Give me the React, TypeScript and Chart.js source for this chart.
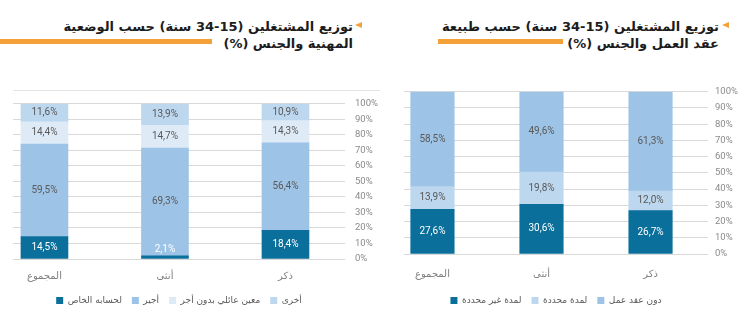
import React, { useEffect, useRef } from 'react';
import { Chart, registerables } from 'chart.js';

Chart.register(...registerables);

// ---------- data ----------
const categories = ['المجموع', 'أنثى', 'ذكر'];

// Left chart: employment status (bottom -> top)
const leftSeriesNames = ['لحسابه الخاص', 'أجير', 'معين عائلي بدون أجر', 'أخرى'];
const selfEmployed = [14.5, 2.1, 18.4];
const employee = [59.5, 69.3, 56.4];
const familyUnpaid = [14.4, 14.7, 14.3];
const otherStatus = [11.6, 13.9, 10.9];

// Right chart: contract type (bottom -> top)
const rightSeriesNames = ['لمدة غير محددة', 'لمدة محددة', 'دون عقد عمل'];
const permanent = [27.6, 30.6, 26.7];
const fixedTerm = [13.9, 19.8, 12.0];
const noContract = [58.5, 49.6, 61.3];

const yTicks = [0, 10, 20, 30, 40, 50, 60, 70, 80, 90, 100];

const leftTitle = ['توزيع المشتغلين (15-34 سنة) حسب الوضعية', 'المهنية والجنس (%)'];
const rightTitle = ['توزيع المشتغلين (15-34 سنة) حسب طبيعة', 'عقد العمل والجنس (%)'];

// ---------- styles ----------
const DARK = '#0b6f9c';
const MID = '#9dc3e6';
const LIGHT = '#bdd7ee';
const PALE = '#deebf7';
const ORANGE = '#f4a13a';
const ARABIC = '"DejaVu Sans", sans-serif';
const NUMFONT = 'Roboto, sans-serif';

const fmt = (v: number) => v.toFixed(1).replace('.', ',') + '%';

const segLabels = {
  id: 'segLabels',
  afterDatasetsDraw(chart: any, _args: any, opts: any) {
    const ctx = chart.ctx;
    ctx.save();
    ctx.font = '10px ' + NUMFONT;
    ctx.textAlign = 'center';
    ctx.textBaseline = 'middle';
    chart.data.datasets.forEach((ds: any, di: number) => {
      const meta = chart.getDatasetMeta(di);
      ctx.fillStyle = (opts.colors && opts.colors[di]) || '#595959';
      meta.data.forEach((el: any, i: number) => {
        const p = el.getProps(['x', 'y', 'base'], true);
        const h = Math.abs(p.base - p.y);
        let cy = (p.y + p.base) / 2;
        if (h < 14) cy = p.base - 9;
        ctx.fillText(fmt(ds.data[i].y), p.x, cy);
      });
    });
    ctx.restore();
  },
};

function makeConfig(
  names: string[],
  series: number[][],
  colors: string[],
  labelColors: string[],
  xMin: number,
  xMax: number,
  barThickness: number,
  padding: any,
  xPad: number,
  xAxisHeight: number,
  yPad: number,
  yAxisWidth: number
) {
  return {
    type: 'bar' as const,
    data: {
      datasets: series.map((vals, k) => ({
        label: names[k],
        data: vals.map((v, i) => ({ x: i, y: v })),
        backgroundColor: colors[k],
        borderWidth: 0,
        barThickness,
      })),
    },
    plugins: [segLabels],
    options: {
      responsive: false,
      animation: false,
      layout: { padding },
      plugins: {
        tooltip: { enabled: false },
        title: { display: false },
        segLabels: { colors: labelColors },
        legend: {
          display: true,
          position: 'bottom',
          fullSize: false,
          labels: {
            boxWidth: 7,
            boxHeight: 7,
            padding: 10,
            color: '#595959',
            font: { family: ARABIC, size: 9 },
          },
        },
      },
      scales: {
        x: {
          type: 'linear',
          stacked: true,
          offset: false,
          min: xMin,
          max: xMax,
          grid: { display: false, drawTicks: false },
          border: { display: false },
          afterBuildTicks: (s: any) => {
            s.ticks = categories.map((_c, i) => ({ value: i }));
          },
          afterFit: (s: any) => {
            s.height = xAxisHeight;
          },
          ticks: {
            padding: xPad,
            color: '#7f7f7f',
            font: { family: ARABIC, size: 10 },
            maxRotation: 0,
            autoSkip: false,
            callback: (v: any) => categories[v] ?? '',
          },
        },
        y: {
          position: 'right',
          stacked: true,
          min: 0,
          max: 100,
          afterBuildTicks: (s: any) => {
            s.ticks = yTicks.map((v) => ({ value: v }));
          },
          afterFit: (s: any) => {
            s.width = yAxisWidth;
          },
          grid: { color: '#d9d9d9', drawTicks: false, lineWidth: 1 },
          border: { display: false },
          ticks: {
            padding: yPad,
            autoSkip: false,
            color: '#8a8a8a',
            font: { family: NUMFONT, size: 9.5 },
            callback: (v: any) => v + '%',
          },
        },
      },
    },
  };
}

function ChartCanvas({ config, style, width, height }: any) {
  const ref = useRef<HTMLCanvasElement>(null);
  useEffect(() => {
    const chart = new Chart(ref.current as HTMLCanvasElement, config as any);
    return () => chart.destroy();
  }, []);
  return <canvas ref={ref} width={width} height={height} style={{ position: 'absolute', width, height, ...style }} />;
}

function Title({ lines, textRight, triLeft, barLeft, barWidth }: any) {
  return (
    <>
      <div
        style={{
          position: 'absolute',
          left: textRight - 360,
          width: 360,
          top: 18,
          direction: 'rtl',
          textAlign: 'right',
          fontFamily: ARABIC,
          fontWeight: 'bold',
          fontSize: 13,
          lineHeight: '17px',
          color: '#1c1c1c',
          whiteSpace: 'nowrap',
        }}
      >
        <div>{lines[0]}</div>
        <div>{lines[1]}</div>
      </div>
      <div
        style={{
          position: 'absolute',
          left: triLeft,
          top: 22,
          width: 0,
          height: 0,
          borderTop: '3.5px solid transparent',
          borderBottom: '3.5px solid transparent',
          borderRight: '7px solid ' + ORANGE,
        }}
      />
      <div style={{ position: 'absolute', left: barLeft, top: 39, width: barWidth, height: 5, background: ORANGE }} />
    </>
  );
}

export default function App() {
  const leftConfig = makeConfig(
    leftSeriesNames,
    [selfEmployed, employee, familyUnpaid, otherStatus],
    [DARK, MID, PALE, LIGHT],
    ['#ffffff', '#595959', '#595959', '#595959'],
    -0.261,
    2.494,
    47,
    { left: 13, top: 3, right: 0, bottom: 6 },
    11,
    27,
    10,
    37
  );
  const rightConfig = makeConfig(
    rightSeriesNames,
    [permanent, fixedTerm, noContract],
    [DARK, LIGHT, MID],
    ['#ffffff', '#595959', '#595959'],
    -0.261,
    2.527,
    43.5,
    { left: 29, top: 5, right: 0, bottom: 6 },
    14,
    32,
    7,
    41
  );
  return (
    <div style={{ position: 'absolute', left: 0, top: 0, width: 749, height: 321, background: '#ffffff', overflow: 'hidden' }}>
      <Title lines={leftTitle} textRight={353} triLeft={355} barLeft={0} barWidth={212} />
      <Title lines={rightTitle} textRight={719} triLeft={722} barLeft={438} barWidth={125} />
      <div style={{ position: 'absolute', left: 13, top: 90, width: 367, height: 1, background: '#e3e3e3' }} />
      <ChartCanvas config={leftConfig} width={382} height={233} style={{ left: 0, top: 88 }} />
      <ChartCanvas config={rightConfig} width={374} height={242} style={{ left: 375, top: 79 }} />
    </div>
  );
}
